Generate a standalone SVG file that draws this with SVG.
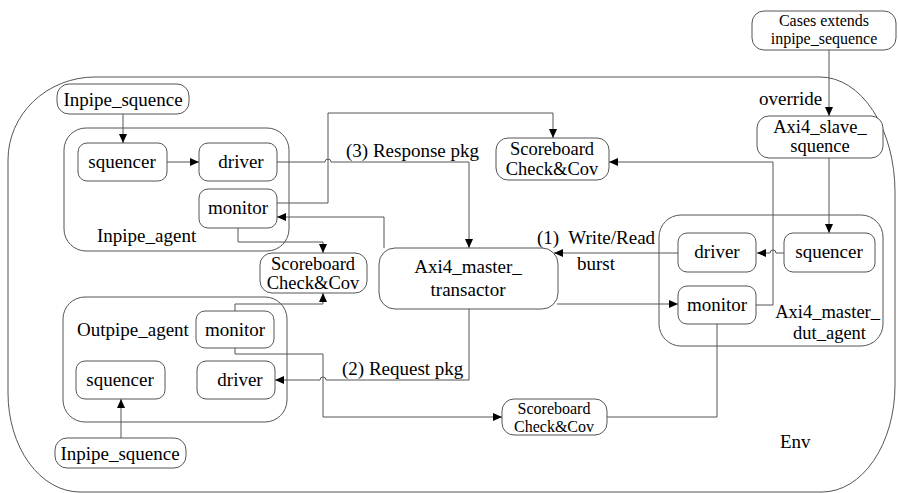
<svg xmlns="http://www.w3.org/2000/svg" width="898" height="493" viewBox="0 0 898 493">
  <defs>
    <marker id="arr" markerUnits="userSpaceOnUse" markerWidth="10" markerHeight="8" refX="9" refY="4" orient="auto">
      <path d="M0 0 L9 4 L0 8 Z" fill="#000"/>
    </marker>
    <style>
      .box { fill: #fff; stroke: #555; stroke-width: 1; }
      .grp { fill: none; stroke: #555; stroke-width: 1; }
      .ln { fill: none; stroke: #555; stroke-width: 1; }
      .ar { marker-end: url(#arr); }
      text { font-size: 19px; fill: #000; }
      .m { font-size: 18.5px; }
      .s { font-size: 16px; }
      .c { text-anchor: middle; }
      .r { text-anchor: end; }
    </style>
  </defs>

  <g font-family="Liberation Serif, serif">
  <!-- environment frame -->
  <g id="env">
    <path class="grp" d="M95 77 H820 A75 115 0 0 1 895 192 V385 A73 107 0 0 1 822 492 H80 A72 99 0 0 1 8 393 V160 A87 83 0 0 1 95 77 Z"/>
    <text x="780" y="448">Env</text>
  </g>

  <!-- agent containers -->
  <g id="inpipe_agent">
    <rect class="grp" x="64" y="128" width="225" height="123" rx="22"/>
    <text x="97" y="242">Inpipe_agent</text>
  </g>
  <g id="outpipe_agent">
    <rect class="grp" x="63" y="297" width="224" height="125" rx="22"/>
    <text x="77" y="336">Outpipe_agent</text>
  </g>
  <g id="dut_agent">
    <rect class="grp" x="659" y="215" width="224" height="131" rx="22"/>
    <text class="r m" x="880" y="318">Axi4_master_</text>
    <text class="r m" x="866" y="339">dut_agent</text>
  </g>

  <!-- connectors -->
  <g id="connectors">
    <path class="ln ar" d="M123 114 V143"/>
    <path class="ln ar" d="M167 162 H199"/>
    <path class="ln ar" d="M277 162 H325 A3 3 0 0 1 331 162 H469 V248"/>
    <path class="ln ar" d="M277 203 H328 V113 H553 V138"/>
    <path class="ln ar" d="M384 248 V217 H277"/>
    <path class="ln ar" d="M238 228 V242 H323 V253"/>
    <path class="ln ar" d="M235 311 V304 H323 V293"/>
    <path class="ln ar" d="M235 348 V354 H323 V417 H502"/>
    <path class="ln ar" d="M469 309 V380 H326 A3 3 0 0 0 320 380 H275"/>
    <path class="ln ar" d="M678 253 H554"/>
    <path class="ln ar" d="M557 304 H678"/>
    <path class="ln ar" d="M784 253 H776 A3 3 0 0 0 770 253 H757"/>
    <path class="ln ar" d="M756 305 H773 V162 H609"/>
    <path class="ln" d="M717 324 V417 H607"/>
    <path class="ln ar" d="M829 50 V116"/>
    <path class="ln ar" d="M829 158 V233"/>
    <path class="ln ar" d="M121 438 V399"/>
    <text x="346" y="157">(3) Response pkg</text>
    <text x="342" y="375">(2) Request pkg</text>
    <text x="537" y="244">(1)&#160; Write/Read</text>
    <text x="577" y="270">burst</text>
    <text x="759" y="105">override</text>
  </g>

  <!-- nodes -->
  <g id="cases_seq">
    <rect class="box" x="752" y="11" width="144" height="39" rx="12"/>
    <text class="c s" x="824" y="26">Cases extends</text>
    <text class="c s" x="824" y="44">inpipe_sequence</text>
  </g>
  <g id="axi4_slave_seq">
    <rect class="box" x="757" y="116" width="126" height="42" rx="12"/>
    <text class="c m" x="820" y="133">Axi4_slave_</text>
    <text class="c m" x="820" y="152">squence</text>
  </g>
  <g id="in_seq_top">
    <rect class="box" x="57" y="84" width="132" height="30" rx="12"/>
    <text class="c" x="123" y="106">Inpipe_squence</text>
  </g>
  <g id="in_sequencer">
    <rect class="box" x="78" y="143" width="89" height="38" rx="9"/>
    <text class="c" x="122" y="168">squencer</text>
  </g>
  <g id="in_driver">
    <rect class="box" x="199" y="143" width="78" height="38" rx="9"/>
    <text class="c" x="241" y="168">driver</text>
  </g>
  <g id="in_monitor">
    <rect class="box" x="199" y="189" width="78" height="39" rx="9"/>
    <text class="c" x="238" y="214">monitor</text>
  </g>
  <g id="scoreboard_top">
    <rect class="box" x="496" y="138" width="113" height="42" rx="12"/>
    <text class="c m" x="552" y="155">Scoreboard</text>
    <text class="c m" x="552" y="175">Check&amp;Cov</text>
  </g>
  <g id="scoreboard_mid">
    <rect class="box" x="260" y="253" width="107" height="40" rx="12"/>
    <text class="c m" x="313" y="270">Scoreboard</text>
    <text class="c m" x="313" y="289">Check&amp;Cov</text>
  </g>
  <g id="scoreboard_bottom">
    <rect class="box" x="502" y="399" width="105" height="36" rx="12"/>
    <text class="c s" x="554" y="413.5">Scoreboard</text>
    <text class="c s" x="554" y="431.5">Check&amp;Cov</text>
  </g>
  <g id="transactor">
    <rect class="box" x="379" y="248" width="179" height="61" rx="16"/>
    <text class="c" x="468" y="273">Axi4_master_</text>
    <text class="c" x="468" y="296">transactor</text>
  </g>
  <g id="out_monitor">
    <rect class="box" x="196" y="311" width="78" height="37" rx="9"/>
    <text class="c" x="235" y="336">monitor</text>
  </g>
  <g id="out_sequencer">
    <rect class="box" x="76" y="361" width="89" height="38" rx="9"/>
    <text class="c" x="120" y="386">squencer</text>
  </g>
  <g id="out_driver">
    <rect class="box" x="197" y="361" width="78" height="38" rx="9"/>
    <text class="c" x="240" y="386">driver</text>
  </g>
  <g id="in_seq_bottom">
    <rect class="box" x="55" y="438" width="131" height="30" rx="12"/>
    <text class="c" x="120" y="460">Inpipe_squence</text>
  </g>
  <g id="dut_driver">
    <rect class="box" x="678" y="233" width="78" height="39" rx="9"/>
    <text class="c" x="717" y="258">driver</text>
  </g>
  <g id="dut_sequencer">
    <rect class="box" x="784" y="233" width="91" height="39" rx="9"/>
    <text class="c" x="829" y="258">squencer</text>
  </g>
  <g id="dut_monitor">
    <rect class="box" x="678" y="286" width="78" height="38" rx="9"/>
    <text class="c" x="717" y="311">monitor</text>
  </g>
  </g>
</svg>
